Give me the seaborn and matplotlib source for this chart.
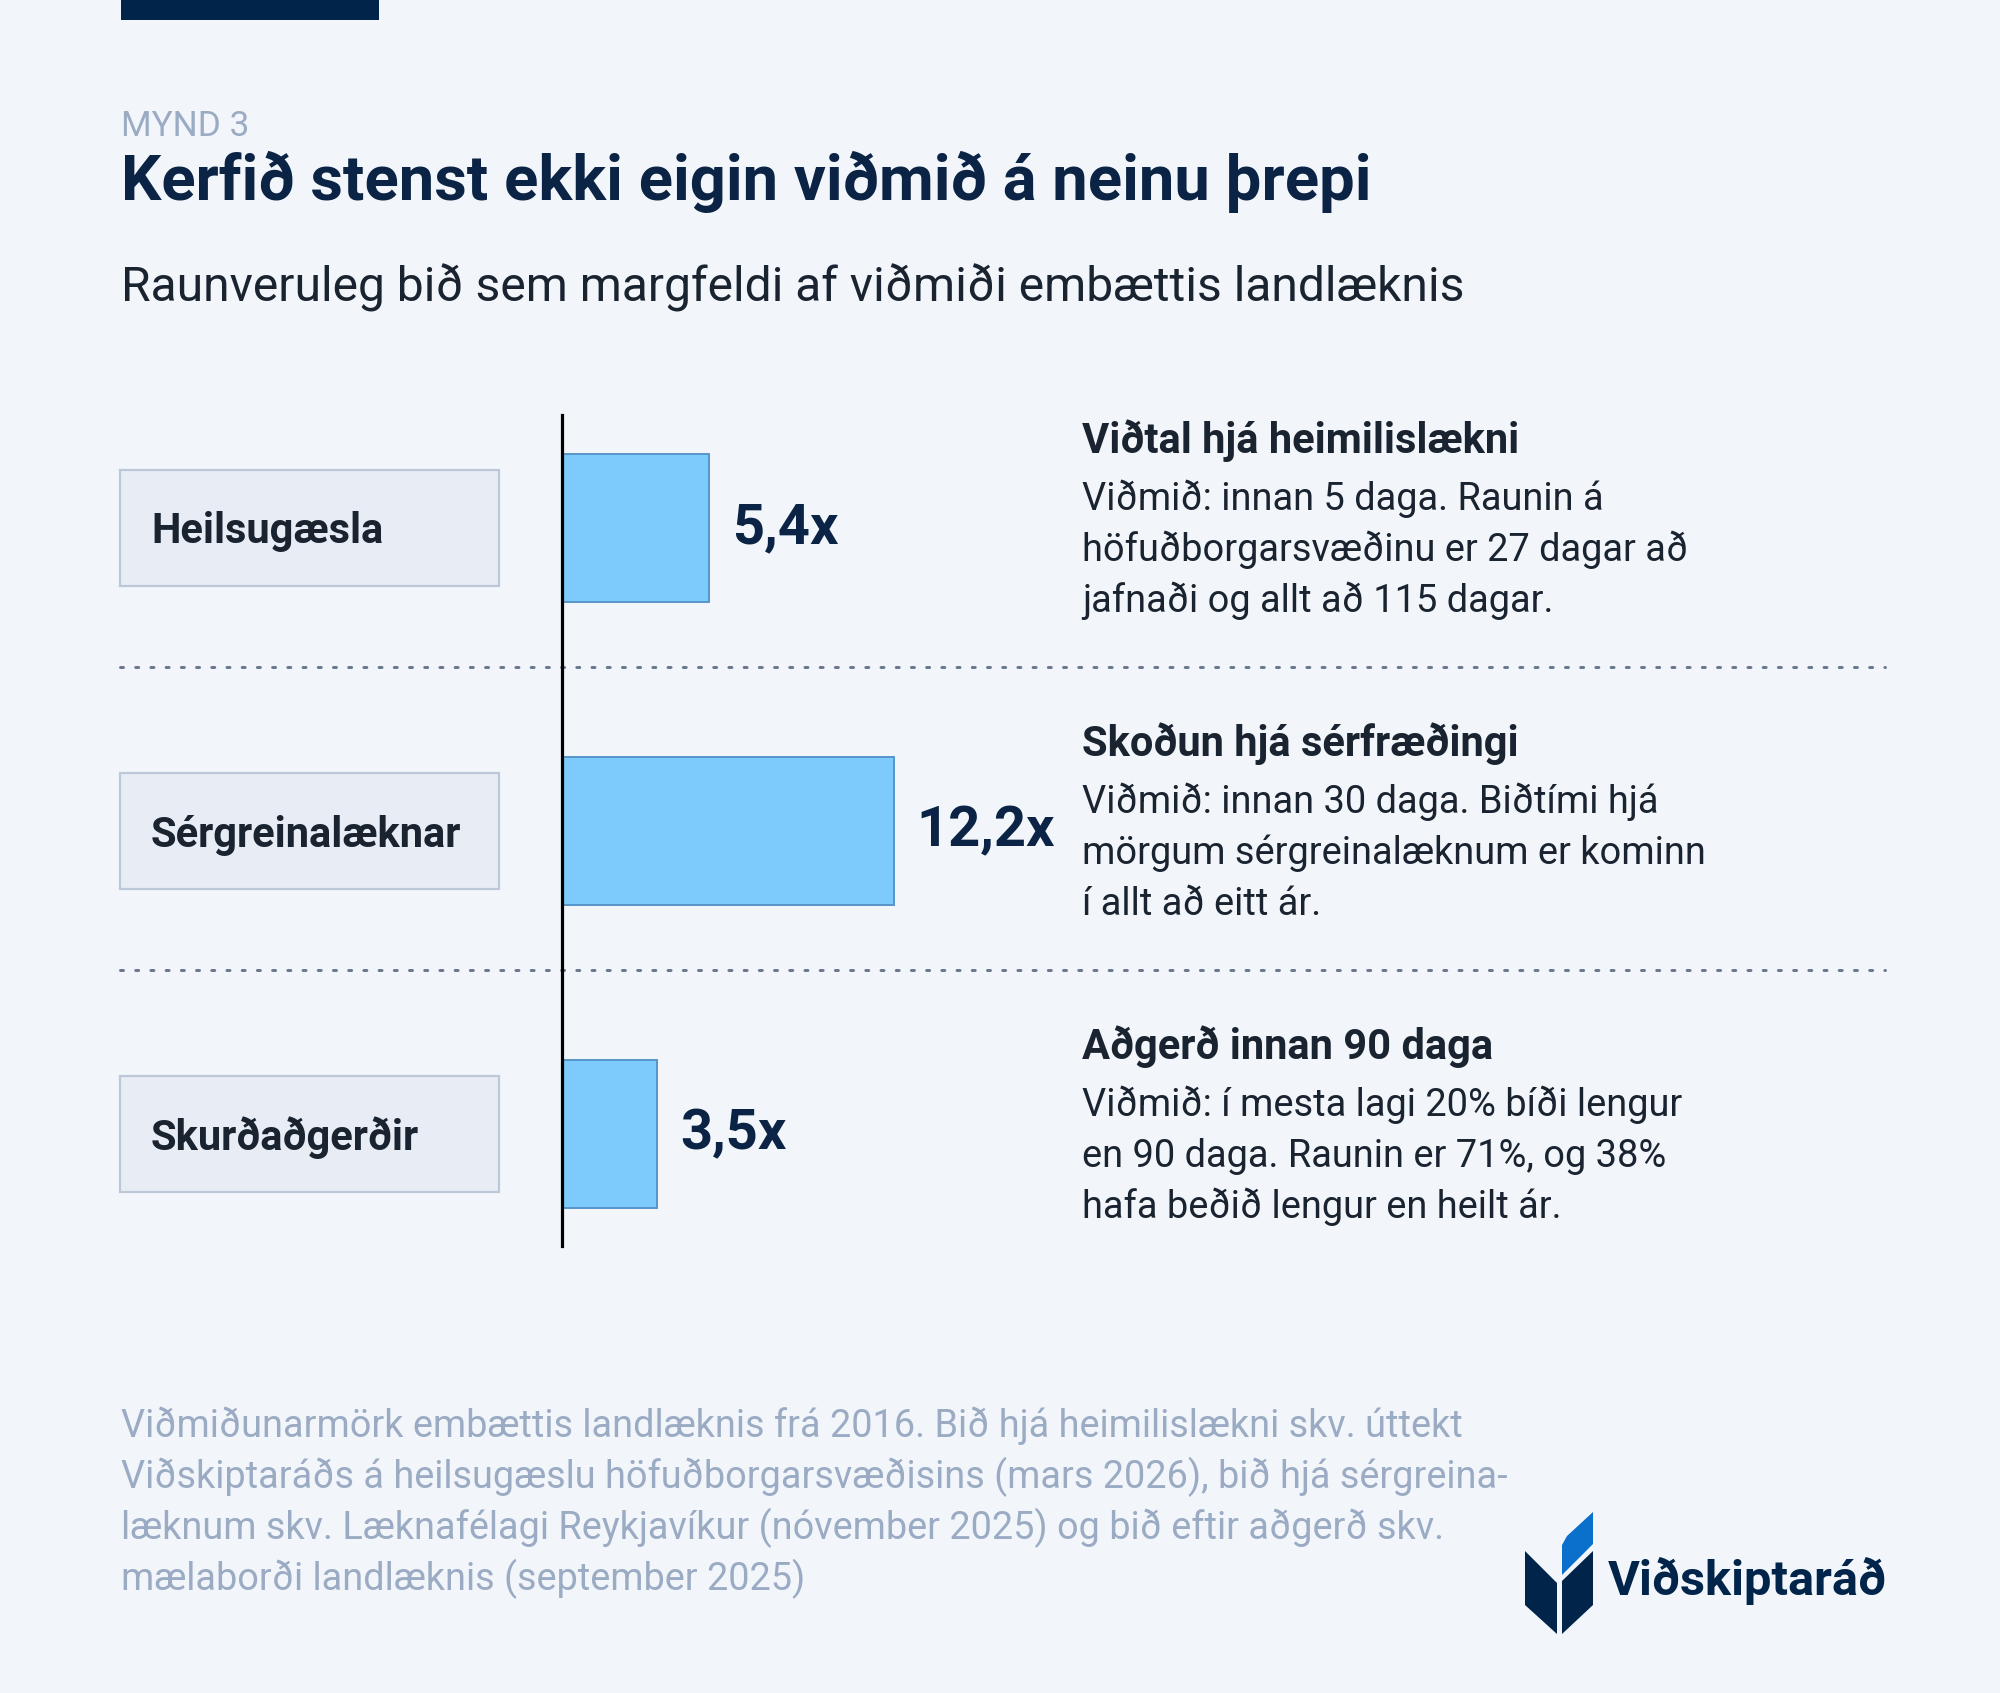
import matplotlib
matplotlib.use('Agg')
import matplotlib.pyplot as plt
import matplotlib.transforms as mtrans
from matplotlib.patches import Rectangle, Polygon
from matplotlib.lines import Line2D
import seaborn as sns
import pandas as pd

# ---------------- data ----------------
categories = ['Heilsugæsla', 'Sérgreinalæknar', 'Skurðaðgerðir']
multiples = [5.4, 12.2, 3.5]
value_labels = ['5,4x', '12,2x', '3,5x']
headings = ['Viðtal hjá heimilislækni', 'Skoðun hjá sérfræðingi', 'Aðgerð innan 90 daga']
descriptions = [
    ['Viðmið: innan 5 daga. Raunin á',
     'höfuðborgarsvæðinu er 27 dagar að',
     'jafnaði og allt að 115 dagar.'],
    ['Viðmið: innan 30 daga. Biðtími hjá',
     'mörgum sérgreinalæknum er kominn',
     'í allt að eitt ár.'],
    ['Viðmið: í mesta lagi 20% bíði lengur',
     'en 90 daga. Raunin er 71%, og 38%',
     'hafa beðið lengur en heilt ár.'],
]
kicker = 'MYND 3'
title = 'Kerfið stenst ekki eigin viðmið á neinu þrepi'
subtitle = 'Raunveruleg bið sem margfeldi af viðmiði embættis landlæknis'
footnote_lines = [
    'Viðmiðunarmörk embættis landlæknis frá 2016. Bið hjá heimilislækni skv. úttekt',
    'Viðskiptaráðs á heilsugæslu höfuðborgarsvæðisins (mars 2026), bið hjá sérgreina-',
    'læknum skv. Læknafélagi Reykjavíkur (nóvember 2025) og bið eftir aðgerð skv.',
    'mælaborði landlæknis (september 2025)',
]
brand = 'Viðskiptaráð'

# ---------------- style ----------------
BG = '#f2f6fb'
NAVY = '#0b2445'
DARK = '#1a2330'
MUTED = '#9aabc3'
BAR = '#7dcafc'
BAR_EDGE = '#5795c9'
BOX_FILL = '#e8edf5'
BOX_EDGE = '#bcc8d8'
DOTS = '#6b7890'
BLUE_LEAF = '#0b6fcc'

sns.set_theme(style='white')
plt.rcParams['font.family'] = ['Roboto', 'DejaVu Sans']

W, H = 2000, 1693
fig = plt.figure(figsize=(W / 100, H / 100), dpi=100, facecolor=BG)
renderer = fig.canvas.get_renderer()
# reference-pixel transform (y downwards)
T = mtrans.Affine2D().scale(1 / W, -1 / H).translate(0, 1) + fig.transFigure


def fit(t, target):
    w = t.get_window_extent(renderer).width
    t.set_fontsize(t.get_fontsize() * target / w)
    return t.get_fontsize()


# ---------------- chart axes ----------------
PX_PER_UNIT = 27.2
AX_L, AX_R, AX_T, AX_B = 562, 1062, 415, 1246
ROW = 303.0
ax = fig.add_axes([AX_L / W, 1 - AX_B / H, (AX_R - AX_L) / W, (AX_B - AX_T) / H])
ax.patch.set_visible(False)

df = pd.DataFrame({'category': categories, 'multiple': multiples})
sns.barplot(data=df, x='multiple', y='category', orient='h', color=BAR,
            saturation=1, edgecolor=BAR_EDGE, linewidth=1.4, width=0.49, ax=ax)
ax.set_xlim(0, (AX_R - AX_L) / PX_PER_UNIT)
top_off = (528 - AX_T) / ROW
ax.set_ylim(2 + (AX_B - 1134) / ROW, -top_off)
ax.set_xticks([])
ax.set_yticks([])
ax.set_xlabel('')
ax.set_ylabel('')
for s in ['top', 'right', 'bottom']:
    ax.spines[s].set_visible(False)
ax.spines['left'].set_color('black')
ax.spines['left'].set_linewidth(2.3)
ax.spines['left'].set_zorder(5)

# value labels
vtexts = ax.bar_label(ax.containers[0], labels=value_labels, padding=23 * 0.72,
                      fontweight='bold', color=NAVY, fontsize=30)
vs = fit(vtexts[1], 139)
for t in vtexts:
    t.set_fontsize(vs)

# blended transform: x in reference pixels, y in data rows
B = mtrans.blended_transform_factory(T, ax.transData)

# dotted separators
for i in range(len(categories) - 1):
    y = i + (667 - 528) / ROW
    ln = Line2D([120, 1885], [y, y], transform=B, color=DOTS, linewidth=2.16,
                linestyle=(0, (1, 4.07)), dash_capstyle='round', clip_on=False, zorder=0.5)
    ax.add_line(ln)

# category boxes + labels
box_h = 116 / ROW
cat_texts = []
for i, c in enumerate(categories):
    r = Rectangle((120, i - box_h / 2), 379, box_h, transform=B, facecolor=BOX_FILL,
                  edgecolor=BOX_EDGE, linewidth=1.6)
    fig.add_artist(r)
    t = fig.text(151, i + 4 / ROW, c, transform=B, ha='left', va='center', fontweight='bold',
                 color=DARK, fontsize=26)
    cat_texts.append(t)
cs = fit(cat_texts[1], 311)
for t in cat_texts:
    t.set_fontsize(cs)

# annotations
head_texts, body_texts = [], []
for i in range(len(categories)):
    t = fig.text(1082, i - 75 / ROW, headings[i], transform=B, ha='left', va='baseline',
                 fontweight='bold', color=DARK, fontsize=28)
    head_texts.append(t)
    for j, line in enumerate(descriptions[i]):
        yy = i + (-18 + 51 * j) / ROW
        tb = fig.text(1082, yy, line, transform=B, ha='left', va='baseline',
                      color=DARK, fontsize=26)
        body_texts.append(tb)
hs = fit(head_texts[0], 436)
for t in head_texts:
    t.set_fontsize(hs)
bs = fit(body_texts[4], 625)
for t in body_texts:
    t.set_fontsize(bs)

# ---------------- header ----------------
fig.add_artist(Rectangle((121, 0), 258, 20, transform=T, facecolor='#01244a', edgecolor='none'))
tk = fig.text(121, 136, kicker, transform=T, ha='left', va='baseline', color=MUTED, fontsize=22)
fit(tk, 128)
tt = fig.text(121, 200, title, transform=T, ha='left', va='baseline', color=NAVY,
              fontweight='bold', fontsize=40)
fit(tt, 1250)
ts = fig.text(121, 301, subtitle, transform=T, ha='left', va='baseline', color=DARK, fontsize=32)
fit(ts, 1347)

# ---------------- footnote ----------------
ftexts = []
for k, line in enumerate(footnote_lines):
    t = fig.text(121, 1437 + 51 * k, line, transform=T, ha='left', va='baseline',
                 color=MUTED, fontsize=26)
    ftexts.append(t)
fs = fit(ftexts[1], 1389)
for t in ftexts:
    t.set_fontsize(fs)

# ---------------- logo ----------------
leaf_l = [(1525, 1551), (1557, 1583), (1557, 1634), (1525, 1605)]
leaf_r = [(1562, 1581), (1593, 1551), (1593, 1605), (1562, 1634)]
leaf_b = [(1562, 1545), (1567, 1536), (1593, 1512), (1593, 1544), (1562, 1575)]
for pts, col in [(leaf_l, '#01244a'), (leaf_r, '#01244a'), (leaf_b, BLUE_LEAF)]:
    fig.add_artist(Polygon(pts, closed=True, transform=T, facecolor=col, edgecolor='none'))
tbr = fig.text(1608, 1595, brand, transform=T, ha='left', va='baseline', color='#01244a',
               fontweight='bold', fontsize=34)
fit(tbr, 279)

fig.savefig('out.png', dpi=100, facecolor=BG)
